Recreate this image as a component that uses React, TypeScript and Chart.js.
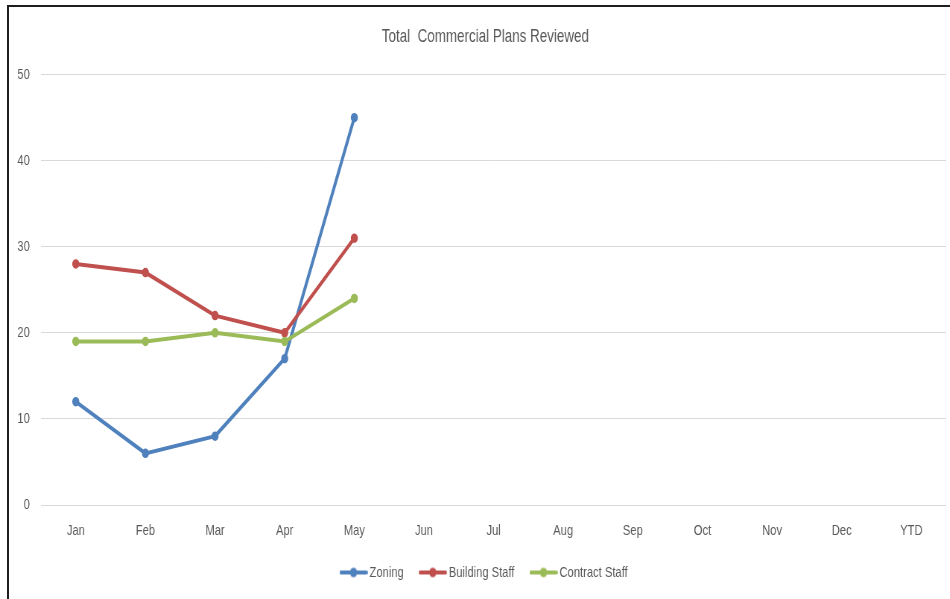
import React, { useEffect, useRef } from "react";
import { Chart, registerables } from "chart.js";

Chart.register(...registerables);

// Categories and series
const months = ["Jan", "Feb", "Mar", "Apr", "May", "Jun", "Jul", "Aug", "Sep", "Oct", "Nov", "Dec", "YTD"];
const zoning = [12, 6, 8, 17, 45, null, null, null, null, null, null, null, null];
const buildingStaff = [28, 27, 22, 20, 31, null, null, null, null, null, null, null, null];
const contractStaff = [19, 19, 20, 19, 24, null, null, null, null, null, null, null, null];
const yMin = 0;
const yMax = 50;
const yStep = 10;

const seriesNames = ["Zoning", "Building Staff", "Contract Staff"];
const seriesColors = ["#4F81BD", "#C0504D", "#9BBB59"];

// The chart is laid out on a wider canvas and squeezed horizontally,
// which gives the narrow lettering and slim steep lines.
const SX = 0.745;
const VIEW_W = 950;
const VIEW_H = 599;
const CANVAS_W = Math.round(971 / SX);
const FONT = "'Liberation Sans', Arial, sans-serif";
const TEXT = "#595959";

function legendIcon(color: string): HTMLCanvasElement {
  const c = document.createElement("canvas");
  c.width = 38;
  c.height = 12;
  const ctx = c.getContext("2d")!;
  ctx.strokeStyle = color;
  ctx.lineWidth = 4;
  ctx.lineCap = "round";
  ctx.beginPath();
  ctx.moveTo(2, 6);
  ctx.lineTo(36, 6);
  ctx.stroke();
  ctx.fillStyle = color;
  ctx.beginPath();
  ctx.arc(19, 6, 4.8, 0, Math.PI * 2);
  ctx.fill();
  return c;
}

export default function App() {
  const canvasRef = useRef<HTMLCanvasElement | null>(null);

  useEffect(() => {
    const canvas = canvasRef.current;
    if (!canvas) return;
    const icons = seriesColors.map(legendIcon);
    const values = [zoning, buildingStaff, contractStaff];

    const chart = new Chart(canvas, {
      type: "line",
      data: {
        labels: months,
        datasets: values.map((data, i) => ({
          label: seriesNames[i],
          data,
          borderColor: seriesColors[i],
          backgroundColor: seriesColors[i],
          borderWidth: 4,
          pointRadius: 4,
          pointBorderWidth: 1.5,
          pointBackgroundColor: seriesColors[i],
          pointBorderColor: seriesColors[i],
          tension: 0,
          fill: false,
          order: values.length - i,
        })),
      },
      options: {
        animation: false,
        responsive: false,
        maintainAspectRatio: false,
        layout: { padding: { left: 0, right: 0, top: 0, bottom: 9 } },
        plugins: {
          title: {
            display: true,
            text: "Total  Commercial Plans Reviewed",
            color: TEXT,
            font: { family: FONT, size: 18, weight: "normal" },
            padding: { top: 26, bottom: 27 },
          },
          legend: {
            display: true,
            position: "bottom",
            labels: {
              usePointStyle: true,
              pointStyleWidth: 28,
              padding: 25,
              color: TEXT,
              font: { family: FONT, size: 15 },
              sort: (a: any, b: any) => a.datasetIndex - b.datasetIndex,
              generateLabels: (ch: any) => {
                const items = Chart.defaults.plugins.legend.labels.generateLabels(ch);
                items.forEach((it: any) => {
                  it.pointStyle = icons[it.datasetIndex];
                });
                return items;
              },
            },
          },
          tooltip: { enabled: false },
        },
        scales: {
          x: {
            type: "category",
            offset: true,
            grid: { display: false, drawTicks: false },
            border: { display: false },
            ticks: {
              color: TEXT,
              font: { family: FONT, size: 15 },
              padding: 17,
              maxRotation: 0,
              autoSkip: false,
            },
            afterFit: (scale: any) => {
              scale.height = 35;
            },
          },
          y: {
            min: yMin,
            max: yMax,
            grid: { color: "#d9d9d9", lineWidth: 1, drawTicks: false },
            border: { display: false },
            ticks: {
              stepSize: yStep,
              color: TEXT,
              font: { family: FONT, size: 15 },
              padding: 15,
            },
            afterFit: (scale: any) => {
              scale.width = 55;
            },
          },
          // empty right-hand margin axis so the plot ends short of the canvas edge
          gutter: {
            type: "linear",
            position: "right",
            display: true,
            min: yMin,
            max: yMax,
            grid: { display: false, drawTicks: false },
            border: { display: false },
            ticks: { display: false },
            afterFit: (scale: any) => {
              scale.width = 33;
            },
          },
        },
      },
    });

    return () => chart.destroy();
  }, []);

  return (
    <div
      style={{
        position: "fixed",
        left: 0,
        top: 0,
        width: VIEW_W,
        height: VIEW_H,
        overflow: "hidden",
        background: "#ffffff",
      }}
    >
      <canvas
        ref={canvasRef}
        width={CANVAS_W}
        height={VIEW_H}
        style={{
          position: "absolute",
          left: 0,
          top: 0,
          width: CANVAS_W,
          height: VIEW_H,
          transform: `scaleX(${SX})`,
          transformOrigin: "0 0",
        }}
      />
      <div
        style={{
          position: "absolute",
          left: 7,
          top: 5,
          width: VIEW_W + 20,
          height: VIEW_H + 20,
          borderLeft: "2px solid #1f1f1f",
          borderTop: "2px solid #1f1f1f",
          pointerEvents: "none",
        }}
      />
    </div>
  );
}
